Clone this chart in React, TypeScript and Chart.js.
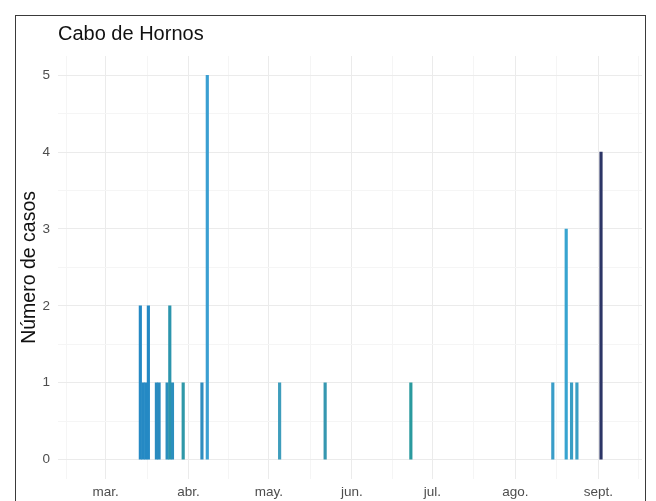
import React, { useEffect, useRef } from "react";
import { Chart, registerables } from "chart.js";

Chart.register(...registerables);

// ---- data ----
const chartTitle = "Cabo de Hornos";
const yAxisTitle = "Número de casos";
const caseDates = [
  "2020-03-14", "2020-03-15", "2020-03-16", "2020-03-17",
  "2020-03-20", "2020-03-21",
  "2020-03-24", "2020-03-25", "2020-03-26",
  "2020-03-30", "2020-04-06", "2020-04-08",
  "2020-05-05", "2020-05-22", "2020-06-23",
  "2020-08-15", "2020-08-20", "2020-08-22", "2020-08-24",
  "2020-09-02",
];
const caseCounts = [2, 1, 1, 2, 1, 1, 1, 2, 1, 1, 1, 5, 1, 1, 1, 1, 3, 1, 1, 4];
const barColors = [
  "#2589c4", "#2589c4", "#2589c4", "#2589c4",
  "#2a8bbf", "#2a8bbf",
  "#2b8fbd", "#2b95ad", "#2b8fbd",
  "#2f98a8", "#2f8dbf", "#3a9fd2",
  "#3e9dbc", "#3597b0", "#2a9a9e",
  "#3a9dc8", "#38a4d0", "#3a9ec4", "#3a9ec4",
  "#2c3566",
];
const monthStarts = ["2020-03-01", "2020-04-01", "2020-05-01", "2020-06-01", "2020-07-01", "2020-08-01", "2020-09-01"];
const monthLabels = ["mar.", "abr.", "may.", "jun.", "jul.", "ago.", "sept."];
const yTicks = [0, 1, 2, 3, 4, 5];

const ORIGIN = Date.UTC(2020, 2, 1);
const dayOf = (s: string) => {
  const [y, m, d] = s.split("-").map(Number);
  return Math.round((Date.UTC(y, m - 1, d) - ORIGIN) / 86400000);
};
const majorX = monthStarts.map(dayOf);
// minor grid lines halfway between month starts
const bounds = [dayOf("2020-02-01"), ...majorX, dayOf("2020-10-01")];
const minorX = bounds.slice(0, -1).map((v, i) => (v + bounds[i + 1]) / 2);

const FONT = "'Liberation Sans', Arial, Helvetica, sans-serif";

export default function App() {
  const ref = useRef<HTMLCanvasElement | null>(null);
  useEffect(() => {
    if (!ref.current) return;
    const points = caseDates.map((d, i) => ({ x: dayOf(d), y: caseCounts[i] }));
    const titleLeftPlugin = {
      id: "titleLeft",
      afterLayout(chart: any) {
        const tb = chart.titleBlock;
        if (tb) tb.left = chart.chartArea.left;
      },
    };
    const chart = new Chart(ref.current, {
      type: "bar",
      data: {
        datasets: [
          {
            data: points as any,
            backgroundColor: barColors,
            borderWidth: 0,
            barThickness: 2.5,
            grouped: false,
          } as any,
        ],
      },
      plugins: [titleLeftPlugin],
      options: {
        animation: false,
        responsive: false,
        devicePixelRatio: 1,
        layout: { padding: { left: 15, right: 14, top: 22, bottom: -4 } },
        plugins: {
          legend: { display: false },
          tooltip: { enabled: false },
          title: {
            display: true,
            text: chartTitle,
            align: "start",
            color: "#111",
            font: { family: FONT, size: 20, weight: "normal" },
            padding: { top: 0, bottom: 10 },
          },
        },
        scales: {
          x: {
            type: "linear",
            offset: false,
            min: -17.74,
            max: 200.3,
            afterBuildTicks: (axis: any) => {
              const all = [...majorX, ...minorX].sort((a, b) => a - b);
              axis.ticks = all.map((v) => ({ value: v }));
            },
            ticks: {
              autoSkip: false,
              maxRotation: 0,
              padding: 5,
              color: "#4d4d4d",
              font: { family: FONT, size: 13.5 },
              callback: (v: any) => {
                const i = majorX.indexOf(Number(v));
                return i >= 0 ? monthLabels[i] : "";
              },
            },
            grid: {
              offset: false,
              drawTicks: false,
              color: (ctx: any) => (ctx.tick && majorX.includes(ctx.tick.value) ? "#ebebeb" : "#f5f5f5"),
              lineWidth: 1,
            },
            border: { display: false },
          },
          y: {
            type: "linear",
            min: -0.25,
            max: 5.25,
            afterBuildTicks: (axis: any) => {
              const vals: number[] = [];
              for (let v = 0; v <= 5; v += 0.5) vals.push(v);
              axis.ticks = vals.map((v) => ({ value: v }));
            },
            afterFit: (axis: any) => {
              axis.width = 43;
            },
            ticks: {
              padding: 8,
              color: "#4d4d4d",
              font: { family: FONT, size: 13.5 },
              callback: (v: any) => (yTicks.includes(Number(v)) ? String(v) : ""),
            },
            grid: {
              drawTicks: false,
              color: (ctx: any) => (ctx.tick && Number.isInteger(ctx.tick.value) ? "#ebebeb" : "#f5f5f5"),
              lineWidth: 1,
            },
            border: { display: false },
            title: {
              display: true,
              text: yAxisTitle,
              color: "#111",
              font: { family: FONT, size: 19.5 },
              padding: { top: 3, bottom: 3 },
            },
          },
        },
      } as any,
    });
    return () => chart.destroy();
  }, []);

  return (
    <div
      style={{
        position: "fixed",
        left: 0,
        top: 0,
        width: 656,
        height: 501,
        overflow: "hidden",
        background: "#fff",
      }}
    >
      <div
        style={{
          position: "absolute",
          left: 15,
          top: 15,
          width: 631,
          height: 540,
          border: "1.6px solid #3a3a3a",
          boxSizing: "border-box",
        }}
      />
      <canvas
        ref={ref}
        width={656}
        height={501}
        style={{ position: "absolute", left: 0, top: 0, width: 656, height: 501 }}
      />
    </div>
  );
}
